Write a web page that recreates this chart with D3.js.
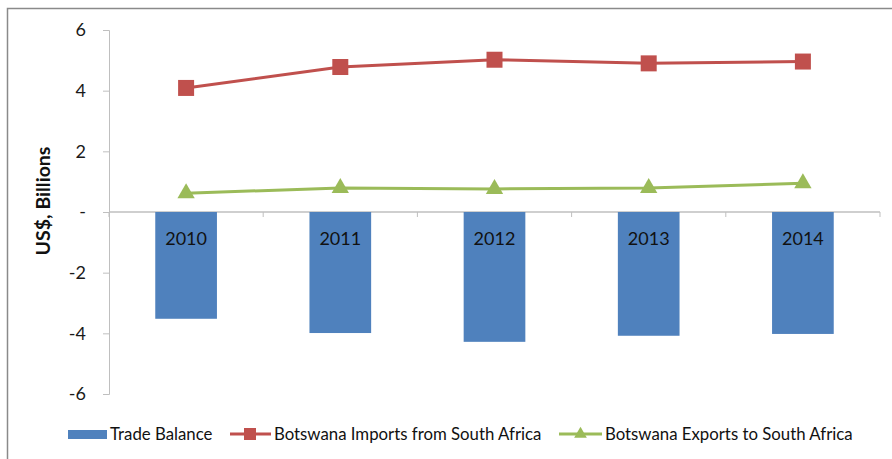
<!DOCTYPE html>
<html>
<head>
<meta charset="utf-8">
<script src="https://cdn.jsdelivr.net/npm/d3@7"></script>
<style>
  html, body { margin: 0; padding: 0; background: #fff; }
  svg { display: block; font-family: Lato, "Open Sans", sans-serif; }
</style>
</head>
<body>
<svg id="chart"></svg>
<script>
// Botswana / South Africa trade, US$ billions
const years = ['2010', '2011', '2012', '2013', '2014'];
const tradeBalance = [-3.52, -3.99, -4.28, -4.08, -4.02];
const importsFromSA = [4.09, 4.78, 5.02, 4.90, 4.96];
const exportsToSA = [0.62, 0.79, 0.76, 0.79, 0.95];
const yTicks = [-6, -4, -2, 0, 2, 4, 6];

const width = 892, height = 459;
const margin = { top: 30, right: 12, bottom: 65, left: 109 };
const innerWidth = 880 - margin.left;
const innerHeight = 394 - margin.top;

const colors = { bar: '#4F81BD', imp: '#C0504D', exp: '#9BBB59', axis: '#BFBFBF' };

const svg = d3.select('#chart')
  .attr('width', width)
  .attr('height', height)
  .attr('viewBox', `0 0 ${width} ${height}`);

// Outer frame (only top and left edges are visible in the crop)
svg.append('path')
  .attr('d', `M7.5,${height + 2} V8.5 H${width + 2}`)
  .attr('fill', 'none')
  .attr('stroke', '#8A8A8A')
  .attr('stroke-width', 1.5);

const g = svg.append('g').attr('transform', `translate(${margin.left}, ${margin.top})`);

const x = d3.scaleBand()
  .domain(years)
  .range([0, innerWidth])
  .paddingInner(0.6)
  .paddingOuter(0.3);

const xBound = d3.scaleLinear().domain([0, years.length]).range([0, innerWidth]);

const y = d3.scaleLinear()
  .domain([-6, 6])
  .range([innerHeight, 0]);

// Y axis
const yAxis = g.append('g')
  .call(d3.axisLeft(y).tickValues(yTicks).tickSize(6).tickPadding(17)
    .tickFormat(d => d === 0 ? '-' : d));
yAxis.select('.domain').attr('stroke', colors.axis);
yAxis.selectAll('.tick line').attr('stroke', colors.axis);
yAxis.selectAll('.tick text')
  .attr('font-size', '18px')
  .attr('fill', '#1a1a1a')
  .attr('font-family', 'Lato, sans-serif');

// Zero line with category tick marks
g.append('line')
  .attr('x1', 0).attr('x2', innerWidth)
  .attr('y1', y(0)).attr('y2', y(0))
  .attr('stroke', colors.axis)
  .attr('stroke-width', 1.5);

g.selectAll('.cat-tick')
  .data(d3.range(years.length + 1))
  .join('line')
  .attr('class', 'cat-tick')
  .attr('x1', d => xBound(d)).attr('x2', d => xBound(d))
  .attr('y1', y(0)).attr('y2', y(0) + 5)
  .attr('stroke', colors.axis);

// Y label
svg.append('text')
  .attr('transform', 'rotate(-90)')
  .attr('x', -201)
  .attr('y', 50)
  .attr('text-anchor', 'middle')
  .attr('font-size', '19.5px')
  .attr('font-weight', '700')
  .attr('fill', '#111')
  .text('US$, Billions');

// Bars
g.selectAll('.bar')
  .data(years.map((yr, i) => ({ yr, v: tradeBalance[i] })))
  .join('rect')
  .attr('class', 'bar')
  .attr('x', d => x(d.yr))
  .attr('width', x.bandwidth())
  .attr('y', d => y(Math.max(0, d.v)))
  .attr('height', d => Math.abs(y(d.v) - y(0)))
  .attr('fill', colors.bar);

// Category labels inside bars
g.selectAll('.cat-label')
  .data(years)
  .join('text')
  .attr('class', 'cat-label')
  .attr('x', d => x(d) + x.bandwidth() / 2)
  .attr('y', y(0) + 33)
  .attr('text-anchor', 'middle')
  .attr('font-size', '18px')
  .attr('fill', '#111')
  .text(d => d);

const cx = d => x(d) + x.bandwidth() / 2;

function drawLine(values, color) {
  const pts = years.map((yr, i) => [cx(yr), y(values[i])]);
  g.append('path')
    .datum(pts)
    .attr('fill', 'none')
    .attr('stroke', color)
    .attr('stroke-width', 3)
    .attr('d', d3.line());
  return pts;
}

// Imports line with square markers
const impPts = drawLine(importsFromSA, colors.imp);
g.selectAll('.sq')
  .data(impPts)
  .join('rect')
  .attr('class', 'sq')
  .attr('x', d => d[0] - 8)
  .attr('y', d => d[1] - 8)
  .attr('width', 16).attr('height', 16)
  .attr('fill', colors.imp);

// Exports line with triangle markers
const expPts = drawLine(exportsToSA, colors.exp);
const tri = d3.symbol().type(d3.symbolTriangle).size(130);
g.selectAll('.tri')
  .data(expPts)
  .join('path')
  .attr('class', 'tri')
  .attr('transform', d => `translate(${d[0]}, ${d[1]})`)
  .attr('d', tri)
  .attr('fill', colors.exp);

// Legend
const legend = svg.append('g').attr('transform', 'translate(0, 434)');
const legendFont = '16.8px';

legend.append('rect')
  .attr('x', 68).attr('y', -4).attr('width', 39).attr('height', 9)
  .attr('fill', colors.bar);
legend.append('text')
  .attr('x', 110).attr('y', 6)
  .attr('font-size', legendFont).attr('fill', '#111')
  .text('Trade Balance');

legend.append('line')
  .attr('x1', 230).attr('x2', 271).attr('y1', 0).attr('y2', 0)
  .attr('stroke', colors.imp).attr('stroke-width', 3);
legend.append('rect')
  .attr('x', 244).attr('y', -6).attr('width', 12).attr('height', 12)
  .attr('fill', colors.imp);
legend.append('text')
  .attr('x', 274).attr('y', 6)
  .attr('font-size', legendFont).attr('fill', '#111')
  .text('Botswana Imports from South Africa');

legend.append('line')
  .attr('x1', 559).attr('x2', 602).attr('y1', 0).attr('y2', 0)
  .attr('stroke', colors.exp).attr('stroke-width', 3);
legend.append('path')
  .attr('transform', 'translate(580.5, 0)')
  .attr('d', d3.symbol().type(d3.symbolTriangle).size(70))
  .attr('fill', colors.exp);
legend.append('text')
  .attr('x', 605).attr('y', 6)
  .attr('font-size', legendFont).attr('fill', '#111')
  .text('Botswana Exports to South Africa');
</script>
</body>
</html>
